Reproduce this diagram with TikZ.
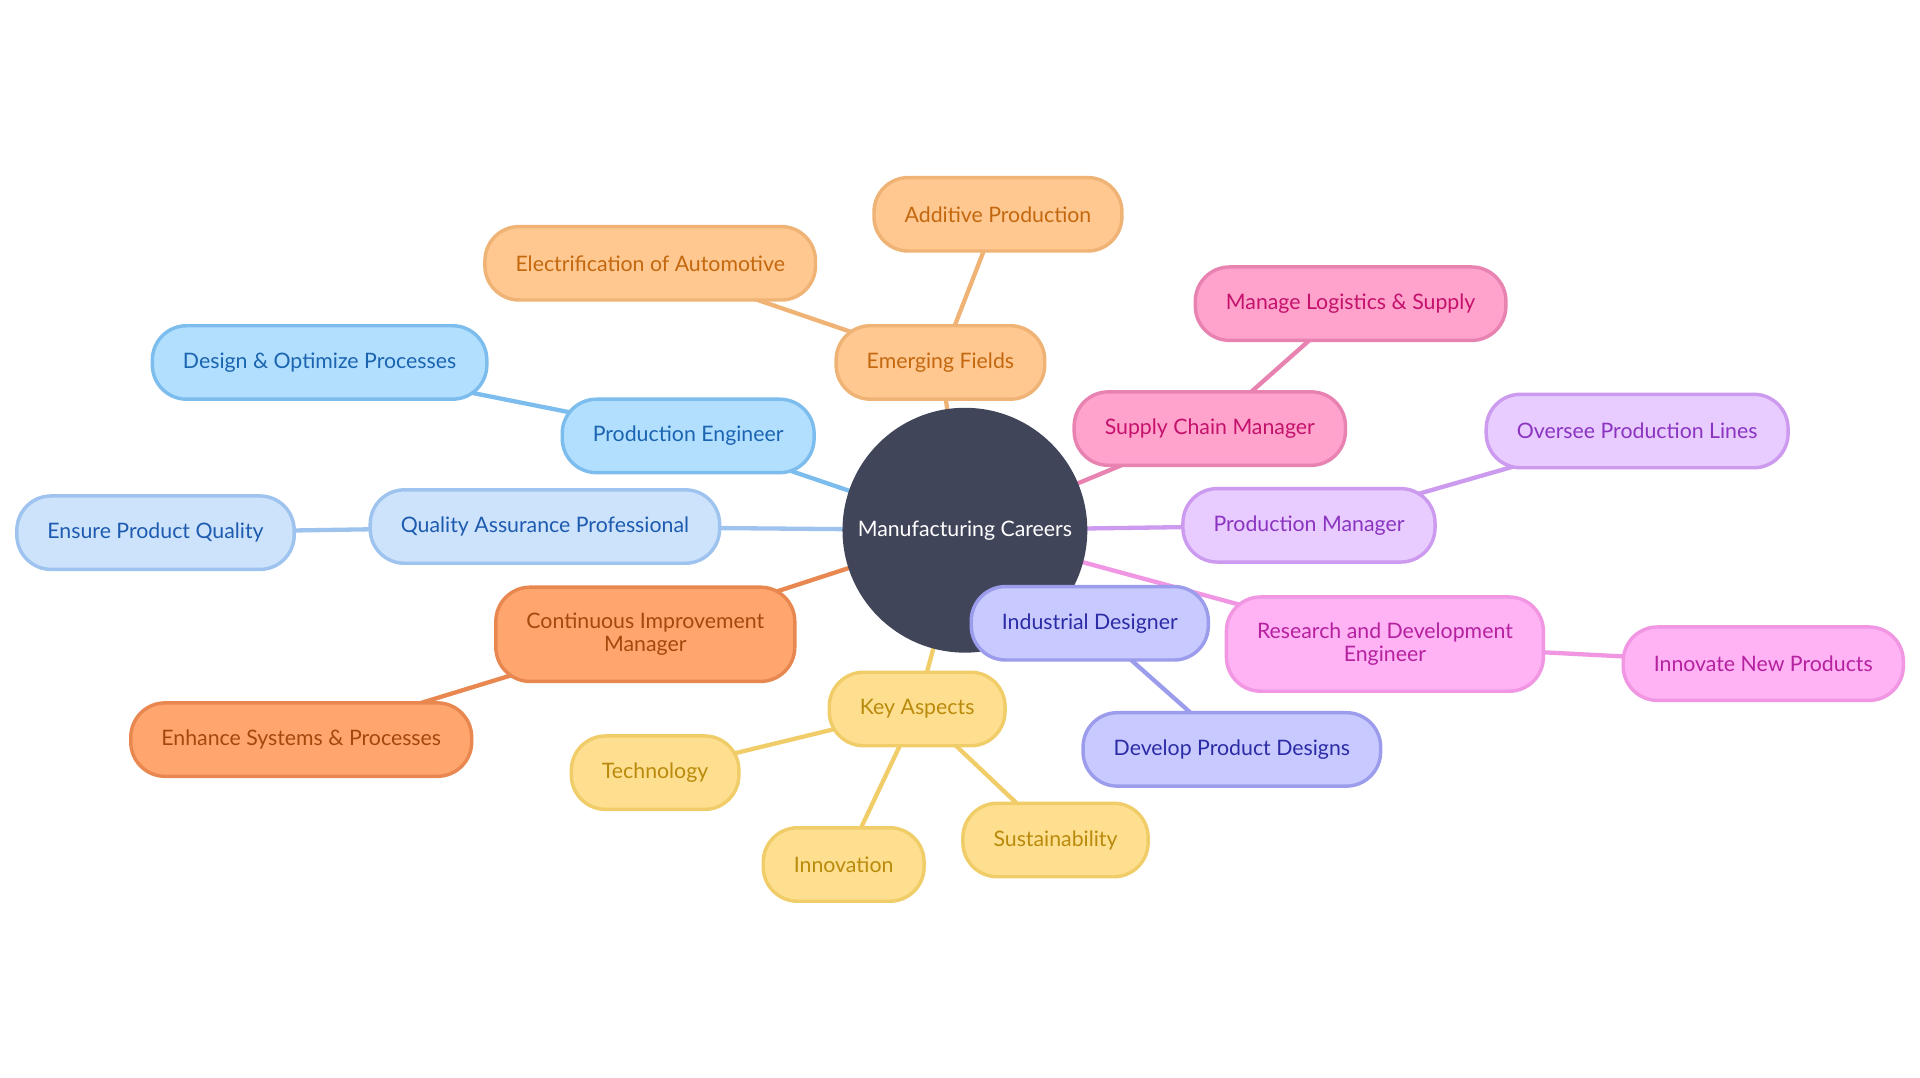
\documentclass[tikz,border=0pt]{standalone}
\usepackage{fontspec}
\setmainfont{Lato}
\usepackage{xcolor}
\usetikzlibrary{positioning, backgrounds}

\definecolor{hub}{HTML}{41455A}
\definecolor{orFill}{HTML}{FFC891}\definecolor{orLine}{HTML}{F0B376}\definecolor{orText}{HTML}{C4680F}
\definecolor{blFill}{HTML}{B3DFFF}\definecolor{blLine}{HTML}{7CBDEE}\definecolor{blText}{HTML}{1A64B0}
\definecolor{lbFill}{HTML}{CDE3FB}\definecolor{lbLine}{HTML}{9EC3EE}\definecolor{lbText}{HTML}{1D5BB0}
\definecolor{doFill}{HTML}{FFA66E}\definecolor{doLine}{HTML}{E8874F}\definecolor{doText}{HTML}{A3490D}
\definecolor{yeFill}{HTML}{FEDF90}\definecolor{yeLine}{HTML}{F0CD69}\definecolor{yeText}{HTML}{B98A0B}
\definecolor{inFill}{HTML}{C8C9FE}\definecolor{inLine}{HTML}{9B9CEB}\definecolor{inText}{HTML}{2B2CA5}
\definecolor{pkFill}{HTML}{FFB2F4}\definecolor{pkLine}{HTML}{F096E2}\definecolor{pkText}{HTML}{B5219F}
\definecolor{puFill}{HTML}{E8CBFF}\definecolor{puLine}{HTML}{CC9AEE}\definecolor{puText}{HTML}{8A34C0}
\definecolor{hpFill}{HTML}{FFA2CC}\definecolor{hpLine}{HTML}{E882B1}\definecolor{hpText}{HTML}{C4126C}

\begin{document}
\begin{tikzpicture}[
    x=0.02cm, y=-0.02cm,
    box/.style={draw, line width=1.6pt, rounded corners=0.56cm, minimum height=1.2cm, inner xsep=0.5cm, align=center, font=\fontsize{9.9}{10.6}\selectfont},
    orbox/.style={box, fill=orFill, draw=orLine, text=orText},
    blbox/.style={box, fill=blFill, draw=blLine, text=blText},
    lbbox/.style={box, fill=lbFill, draw=lbLine, text=lbText},
    dobox/.style={box, fill=doFill, draw=doLine, text=doText},
    yebox/.style={box, fill=yeFill, draw=yeLine, text=yeText},
    inbox/.style={box, fill=inFill, draw=inLine, text=inText},
    pkbox/.style={box, fill=pkFill, draw=pkLine, text=pkText},
    pubox/.style={box, fill=puFill, draw=puLine, text=puText},
    hpbox/.style={box, fill=hpFill, draw=hpLine, text=hpText},
    link/.style={line width=2pt}
]
    \useasboundingbox (0,0) rectangle (1568,880);

    % branches
    \node[orbox] (ef) at (768,296) {Emerging Fields};
    \node[orbox] (ap) at (815,175) {Additive Production};
    \node[orbox] (ea) at (531,215) {Electrification of Automotive};
    \node[blbox] (pe) at (562,356) {Production Engineer};
    \node[blbox] (dop) at (261,296) {Design \& Optimize Processes};
    \node[lbbox] (qa) at (445,430) {Quality Assurance Professional};
    \node[lbbox] (epq) at (127,435) {Ensure Product Quality};
    \node[dobox, minimum height=1.54cm] (cim) at (527,518) {Continuous Improvement\\Manager};
    \node[dobox] (esp) at (246,604) {Enhance Systems \& Processes};
    \node[yebox] (ka) at (749,579) {Key Aspects};
    \node[yebox] (tech) at (535,631) {Technology};
    \node[yebox] (innov) at (689,706) {Innovation};
    \node[yebox] (sust) at (862,686) {Sustainability};
    \node[pkbox, minimum height=1.54cm] (rd) at (1131,526) {Research and Development\\Engineer};
    \node[pkbox] (inp) at (1440,542) {Innovate New Products};
    \node[pubox] (pm) at (1069,429) {Production Manager};
    \node[pubox] (opl) at (1337,352) {Oversee Production Lines};
    \node[hpbox] (scm) at (988,350) {Supply Chain Manager};
    \node[hpbox] (mls) at (1103,248) {Manage Logistics \& Supply};

    % root
    \node[circle, fill=hub, text=white, minimum size=4cm, inner sep=0pt, font=\fontsize{9.9}{11}\selectfont] (mc) at (788,433) {Manufacturing Careers};

    \node[inbox] (ind) at (890,509) {Industrial Designer};
    \node[inbox] (dpd) at (1006,612) {Develop Product Designs};

    % links
    \begin{scope}[on background layer]
        \draw[link, orLine] (mc.center) -- (ef.center);
        \draw[link, orLine] (ef.center) -- (ap.center);
        \draw[link, orLine] (ef.center) -- (ea.center);
        \draw[link, blLine] (mc.center) -- (pe.center);
        \draw[link, blLine] (pe.center) -- (dop.center);
        \draw[link, lbLine] (mc.center) -- (qa.center);
        \draw[link, lbLine] (qa.center) -- (epq.center);
        \draw[link, doLine] (mc.center) -- (cim.center);
        \draw[link, doLine] (cim.center) -- (esp.center);
        \draw[link, yeLine] (mc.center) -- (ka.center);
        \draw[link, yeLine] (ka.center) -- (tech.center);
        \draw[link, yeLine] (ka.center) -- (innov.center);
        \draw[link, yeLine] (ka.center) -- (sust.center);
        \draw[link, inLine] (mc.center) -- (ind.center);
        \draw[link, inLine] (ind.center) -- (dpd.center);
        \draw[link, pkLine] (mc.center) -- (rd.center);
        \draw[link, pkLine] (rd.center) -- (inp.center);
        \draw[link, puLine] (mc.center) -- (pm.center);
        \draw[link, puLine] (pm.center) -- (opl.center);
        \draw[link, hpLine] (mc.center) -- (scm.center);
        \draw[link, hpLine] (scm.center) -- (mls.center);
    \end{scope}
\end{tikzpicture}
\end{document}
